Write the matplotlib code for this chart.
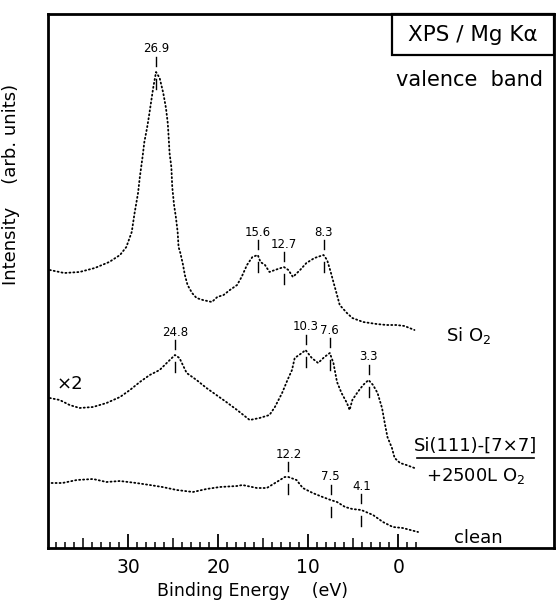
import numpy as np
import matplotlib
matplotlib.use('Agg')
import matplotlib.pyplot as plt
from matplotlib.ticker import FixedLocator
from matplotlib.patches import Rectangle

# Espectros (energia de enlace en eV, intensidad arb.)
e_sio2 = [38.7, 37.1, 35.4, 33.7, 32.1, 30.9, 30.2, 29.6, 29.3, 28.9, 28.7, 28.4,
          28.2, 27.9, 27.7, 27.5, 27.2, 26.9, 26.5, 26.1, 25.8, 25.6, 25.5, 25.4,
          25.2, 25.1, 24.9, 24.7, 24.5, 24.4, 24.2, 23.9, 23.7, 23.4, 22.9, 22.4,
          21.7, 20.7, 20.1, 19.4, 18.7, 17.9, 17.4, 16.8, 16.2, 15.6, 15.3, 14.8,
          14.3, 13.7, 12.7, 12.2, 11.7, 10.9, 10.2, 9.3, 8.3, 7.9, 7.5, 7.2, 6.8,
          6.5, 5.7, 5.1, 3.9, 2.4, 1.3, 0.2, -0.7, -1.8]
i_sio2 = [278, 275, 276, 280, 286, 293, 301, 316, 334, 355, 371, 391,
          406, 420, 431, 443, 461, 476, 470, 455, 440, 425, 411, 395,
          381, 361, 343, 331, 316, 301, 295, 283, 273, 263, 255, 250,
          248, 246, 251, 253, 258, 263, 271, 283, 291, 293, 286, 283,
          276, 278, 281, 278, 271, 278, 285, 290, 293, 288, 276, 266, 253,
          243, 235, 230, 226, 224, 223, 223, 222, 218]

e_ox = [38.7, 37.6, 36.5, 35.4, 33.9, 32.4, 30.9, 29.8, 28.7, 27.6, 26.5, 25.6,
        24.8, 24.3, 23.5, 22.4, 21.3, 20.2, 19.1, 17.9, 16.5, 15.4, 14.3, 13.7,
        12.9, 12.3, 11.8, 11.5, 10.7, 10.3, 9.6, 8.9, 8.2, 7.6, 7.2, 6.8, 6.3,
        5.7, 5.4, 5.1, 4.5, 3.9, 3.3, 2.8, 2.3, 1.8, 1.5, 1.2, 0.7, 0.4, -0.2,
        -0.9, -1.8]
i_ox = [150, 148, 143, 140, 141, 145, 151, 158, 166, 173, 178, 186,
        193, 190, 175, 168, 160, 153, 146, 138, 128, 130, 133, 141,
        155, 168, 178, 190, 195, 198, 190, 185, 191, 195, 185, 166, 155,
        145, 138, 148, 156, 163, 168, 163, 155, 140, 125, 111, 100, 90, 85,
        83, 80]

e_clean = [38.5, 37.3, 35.7, 33.9, 32.4, 30.9, 29.1, 27.6, 26.2, 24.6, 22.8,
           21.3, 19.8, 17.9, 17.3, 15.7, 14.6, 13.5, 12.6, 12.2, 11.3, 10.6,
           9.5, 8.4, 7.5, 6.8, 5.9, 5.1, 4.1, 2.8, 1.7, 0.6, -0.5, -2.2]
i_clean = [65, 65, 68, 69, 66, 67, 65, 63, 61, 58, 56,
           59, 61, 62, 63, 60, 60, 66, 71, 71, 68, 60,
           55, 51, 48, 46, 41, 39, 38, 33, 26, 21, 20, 16]

# Picos marcados
pk_sio2_e = [26.9, 15.6, 12.7, 8.3]
pk_sio2_i = [476, 293, 281, 293]
pk_ox_e = [24.8, 10.3, 7.6, 3.3]
pk_ox_i = [193, 198, 195, 168]
pk_clean_e = [12.2, 7.5, 4.1]
pk_clean_i = [71, 48, 39]

fig = plt.figure(figsize=(5.56, 6.05), dpi=100)
ax = fig.add_axes([48/556, 1 - 548/605, 506/556, 534/605])

dots = dict(color='k', lw=1.3, ls=(0, (0.6, 1.6)), dash_capstyle='round')
ax.plot(e_sio2, i_sio2, **dots)
ax.plot(e_ox, i_ox, **dots)
ax.plot(e_clean, i_clean, **dots)

# marcas de picos
for es, ys in [(pk_sio2_e, pk_sio2_i), (pk_ox_e, pk_ox_i), (pk_clean_e, pk_clean_i)]:
    for e, y in zip(es, ys):
        ax.plot([e, e], [y + 6, y + 15], color='k', lw=1.0)
        ax.plot([e, e], [y - 7, y - 17], color='k', lw=1.0)
        ax.text(e, y + 23, f'{e:.1f}', ha='center', va='center', fontsize=8.5)

ax.set_xlim(38.9, -17.3)
ax.set_ylim(0, 534)
ax.set_yticks([])

ax.xaxis.set_major_locator(FixedLocator([30, 20, 10, 0]))
minor = [v for v in range(-2, 39) if v % 10 != 0]
ax.xaxis.set_minor_locator(FixedLocator(minor))
ax.tick_params(axis='x', which='major', direction='in', length=10, width=1.3,
               labelsize=13.5, pad=7, top=False)
ax.tick_params(axis='x', which='minor', direction='in', length=4.5, width=1.1, top=False)
for t, v in zip(ax.xaxis.get_minor_ticks(len(minor)), minor):
    if v % 5 == 0:
        t.tick1line.set_markersize(7)

for s in ax.spines.values():
    s.set_linewidth(2)

ax.set_ylabel('Intensity    (arb. units)', fontsize=13)
ax.yaxis.set_label_coords(-0.055, 0.68)
ax.text(0.405, -0.08, 'Binding Energy    (eV)', transform=ax.transAxes,
        ha='center', va='center', fontsize=12.5)

# caja del titulo
ax.add_patch(Rectangle((0.68, 0.923), 0.32, 0.077, transform=ax.transAxes,
                       fill=False, lw=1.6, clip_on=False))
ax.text(0.84, 0.961, 'XPS / Mg Kα', transform=ax.transAxes,
        ha='center', va='center', fontsize=15.5)
ax.text(0.978, 0.876, 'valence  band', transform=ax.transAxes,
        ha='right', va='center', fontsize=15)

ax.text(-7.8, 212, r'Si O$_2$', ha='center', va='center', fontsize=13)
ax.text(36.5, 164, '×2', ha='center', va='center', fontsize=13)
ax.text(-8.6, 102, 'Si(111)-[7×7]', ha='center', va='center', fontsize=13)
ax.plot([0.73, 0.96], [0.168, 0.168], transform=ax.transAxes, color='k', lw=1.2)
ax.text(-8.6, 72, r'+2500L O$_2$', ha='center', va='center', fontsize=13)
ax.text(-8.9, 10, 'clean', ha='center', va='center', fontsize=13)

fig.savefig('out.png', dpi=100)
